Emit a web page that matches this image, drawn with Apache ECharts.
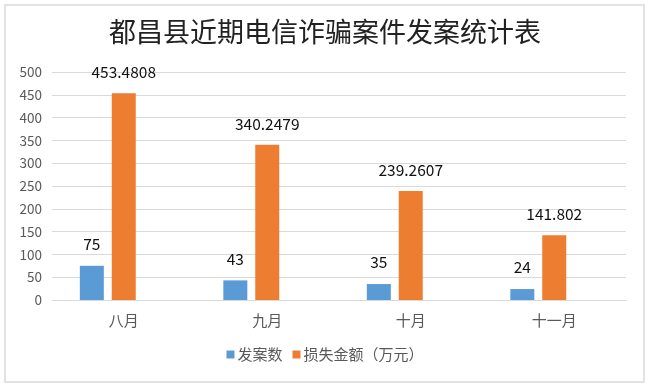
<!DOCTYPE html>
<html>
<head>
<meta charset="utf-8">
<script src="https://cdn.jsdelivr.net/npm/echarts@6/dist/echarts.min.js"></script>
<style>
html,body{margin:0;padding:0;background:#fff;}
#wrap{position:relative;width:650px;height:388px;}
#chart{position:absolute;left:0;top:0;width:650px;height:388px;}
#frame{position:absolute;left:4px;top:4px;width:637px;height:375px;border:2px solid #e2e2e2;pointer-events:none;}
</style>
</head>
<body>
<div id="wrap"><div id="chart"></div><div id="frame"></div></div>
<script>
const titleText = '都昌县近期电信诈骗案件发案统计表';
const categories = ['八月', '九月', '十月', '十一月'];
const caseCounts = [75, 43, 35, 24];
const lossAmounts = [453.4808, 340.2479, 239.2607, 141.802];
const seriesNames = ['发案数', '损失金额（万元）'];
const yTicks = {min: 0, max: 500, interval: 50};
const spacer = [null, null, null, null];

const font = '"Noto Sans CJK SC", "Noto Sans", sans-serif';
const chart = echarts.init(document.getElementById('chart'), null, {renderer: 'canvas'});
chart.setOption({
  animation: false,
  backgroundColor: '#fff',
  title: {
    text: titleText,
    left: 'center',
    top: 13,
    textStyle: {fontFamily: font, fontSize: 27, fontWeight: 'normal', color: '#222'}
  },
  legend: {
    data: seriesNames,
    bottom: 21,
    left: 'center',
    icon: 'rect',
    itemWidth: 8,
    itemHeight: 8,
    itemGap: 10,
    textStyle: {fontFamily: font, fontSize: 15, color: '#595959', padding: [0, 0, 0, -2]}
  },
  grid: {left: 52, right: 24, top: 72, bottom: 88, containLabel: false},
  xAxis: {
    type: 'category',
    data: categories,
    axisLine: {lineStyle: {color: '#d9d9d9'}},
    axisTick: {show: false},
    axisLabel: {fontFamily: font, fontSize: 15, color: '#595959', margin: 13}
  },
  yAxis: {
    type: 'value',
    min: yTicks.min,
    max: yTicks.max,
    interval: yTicks.interval,
    axisLine: {show: false},
    axisTick: {show: false},
    axisLabel: {fontFamily: font, fontSize: 13.5, color: '#595959', margin: 10},
    splitLine: {lineStyle: {color: '#d9d9d9'}}
  },
  series: [
    {
      name: seriesNames[0], type: 'bar', data: caseCounts, barWidth: 24, barGap: '33%',
      itemStyle: {color: '#5b9bd5'},
      label: {show: true, position: 'top', distance: 14, fontFamily: font, fontSize: 15.5, color: '#111'}
    },
    {
      name: seriesNames[1], type: 'bar', data: lossAmounts, barWidth: 24, barGap: '33%',
      itemStyle: {color: '#ed7d31'},
      label: {show: true, position: 'top', distance: 13, fontFamily: font, fontSize: 15.5, color: '#111'}
    },
    {
      name: 'spacer', type: 'bar', data: spacer, barWidth: 24, barGap: '33%',
      itemStyle: {color: 'rgba(0,0,0,0)'}, silent: true
    }
  ]
});
</script>
</body>
</html>
